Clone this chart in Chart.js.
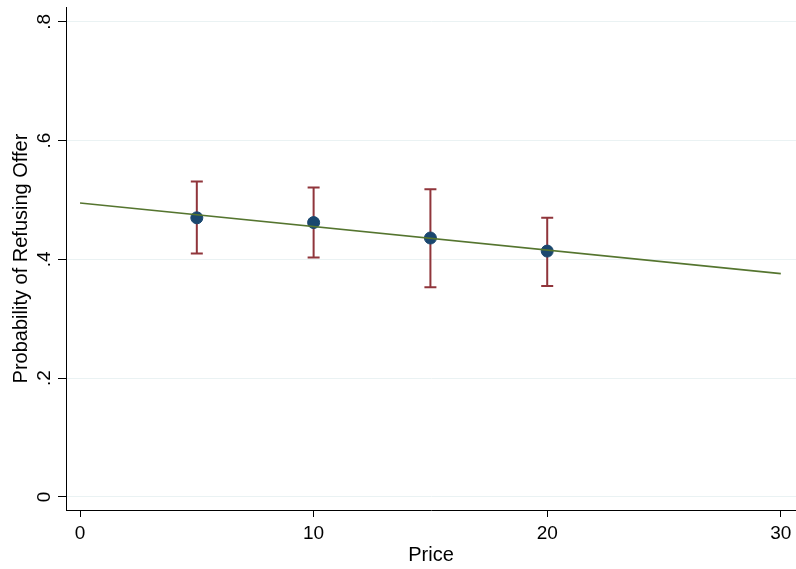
<!DOCTYPE html>
<html>
<head>
<meta charset="utf-8">
<script src="https://cdn.jsdelivr.net/npm/chart.js@4/dist/chart.umd.min.js"></script>
<style>
  html, body { margin: 0; padding: 0; background: #fff; }
  canvas { display: block; }
</style>
</head>
<body>
<canvas id="chart" width="796" height="569"></canvas>
<script>
// data
const prices = [5, 10, 15, 20];
const probRefuse = [0.470, 0.462, 0.436, 0.414];
const ciUpper = [0.531, 0.521, 0.518, 0.470];
const ciLower = [0.410, 0.403, 0.353, 0.355];
const fitX = [0, 30];
const fitY = [0.495, 0.376];
const xTicks = [0, 10, 20, 30];
const yTicks = [0, 0.2, 0.4, 0.6, 0.8];

const FONT = "'Liberation Sans', Arial, sans-serif";

const fmtY = (v) => (v === 0 ? "0" : v.toFixed(1).replace(/^0/, ""));

// error bars under the points, tick labels drawn by hand (y ones rotated like Stata)
const stataBits = {
  id: "stataBits",
  beforeDatasetsDraw(chart) {
    const { ctx, scales: { x, y } } = chart;
    ctx.save();
    ctx.strokeStyle = "#90353b";
    ctx.lineWidth = 2;
    prices.forEach((p, i) => {
      const px = x.getPixelForValue(p);
      const top = y.getPixelForValue(ciUpper[i]);
      const bot = y.getPixelForValue(ciLower[i]);
      ctx.beginPath();
      ctx.moveTo(px, top);
      ctx.lineTo(px, bot);
      ctx.moveTo(px - 6, top);
      ctx.lineTo(px + 6, top);
      ctx.moveTo(px - 6, bot);
      ctx.lineTo(px + 6, bot);
      ctx.stroke();
    });
    ctx.restore();
  },
  afterDraw(chart) {
    const { ctx, scales: { x, y } } = chart;
    ctx.save();
    ctx.fillStyle = "#000";
    ctx.textAlign = "center";
    ctx.textBaseline = "middle";
    ctx.font = "19px " + FONT;
    xTicks.forEach((v) => {
      ctx.fillText(String(v), x.getPixelForValue(v), 534);
    });
    yTicks.forEach((v) => {
      const py = y.getPixelForValue(v);
      ctx.save();
      ctx.translate(45, py);
      ctx.rotate(-Math.PI / 2);
      ctx.fillText(fmtY(v), 0, 0);
      ctx.restore();
    });
    ctx.font = "20px " + FONT;
    ctx.translate(21, (y.top + y.bottom) / 2);
    ctx.rotate(-Math.PI / 2);
    ctx.fillText("Probability of Refusing Offer", 0, 0);
    ctx.restore();
  },
};

new Chart(document.getElementById("chart"), {
  type: "scatter",
  data: {
    datasets: [
      {
        type: "line",
        data: fitX.map((v, i) => ({ x: v, y: fitY[i] })),
        borderColor: "#55752f",
        borderWidth: 1.6,
        pointRadius: 0,
        fill: false,
        tension: 0,
        order: 0,
      },
      {
        data: prices.map((v, i) => ({ x: v, y: probRefuse[i] })),
        backgroundColor: "#1a476f",
        borderColor: "#1a476f",
        pointRadius: 6,
        order: 1,
      },
    ],
  },
  options: {
    responsive: false,
    animation: false,
    layout: { autoPadding: false, padding: { top: 7, right: 0, left: 0, bottom: 0 } },
    plugins: { legend: { display: false }, tooltip: { enabled: false } },
    scales: {
      x: {
        type: "linear",
        min: -0.6,
        max: 30.65,
        afterBuildTicks: (s) => { s.ticks = xTicks.map((v) => ({ value: v })); },
        afterFit: (s) => { s.height = 59; },
        grid: { drawOnChartArea: false, tickColor: "#000", tickLength: 7 },
        border: { color: "#000", width: 1 },
        ticks: { display: false },
        title: {
          display: true,
          text: "Price",
          color: "#000",
          font: { family: FONT, size: 20 },
          padding: { top: 0, bottom: 2 },
        },
      },
      y: {
        type: "linear",
        min: -0.022,
        max: 0.825,
        afterBuildTicks: (s) => { s.ticks = yTicks.map((v) => ({ value: v })); },
        afterFit: (s) => { s.width = 66; },
        grid: { color: "#eaf2f3", lineWidth: 1, tickColor: "#000", tickLength: 8 },
        border: { color: "#000", width: 1 },
        ticks: { display: false },
      },
    },
  },
  plugins: [stataBits],
});
</script>
</body>
</html>
